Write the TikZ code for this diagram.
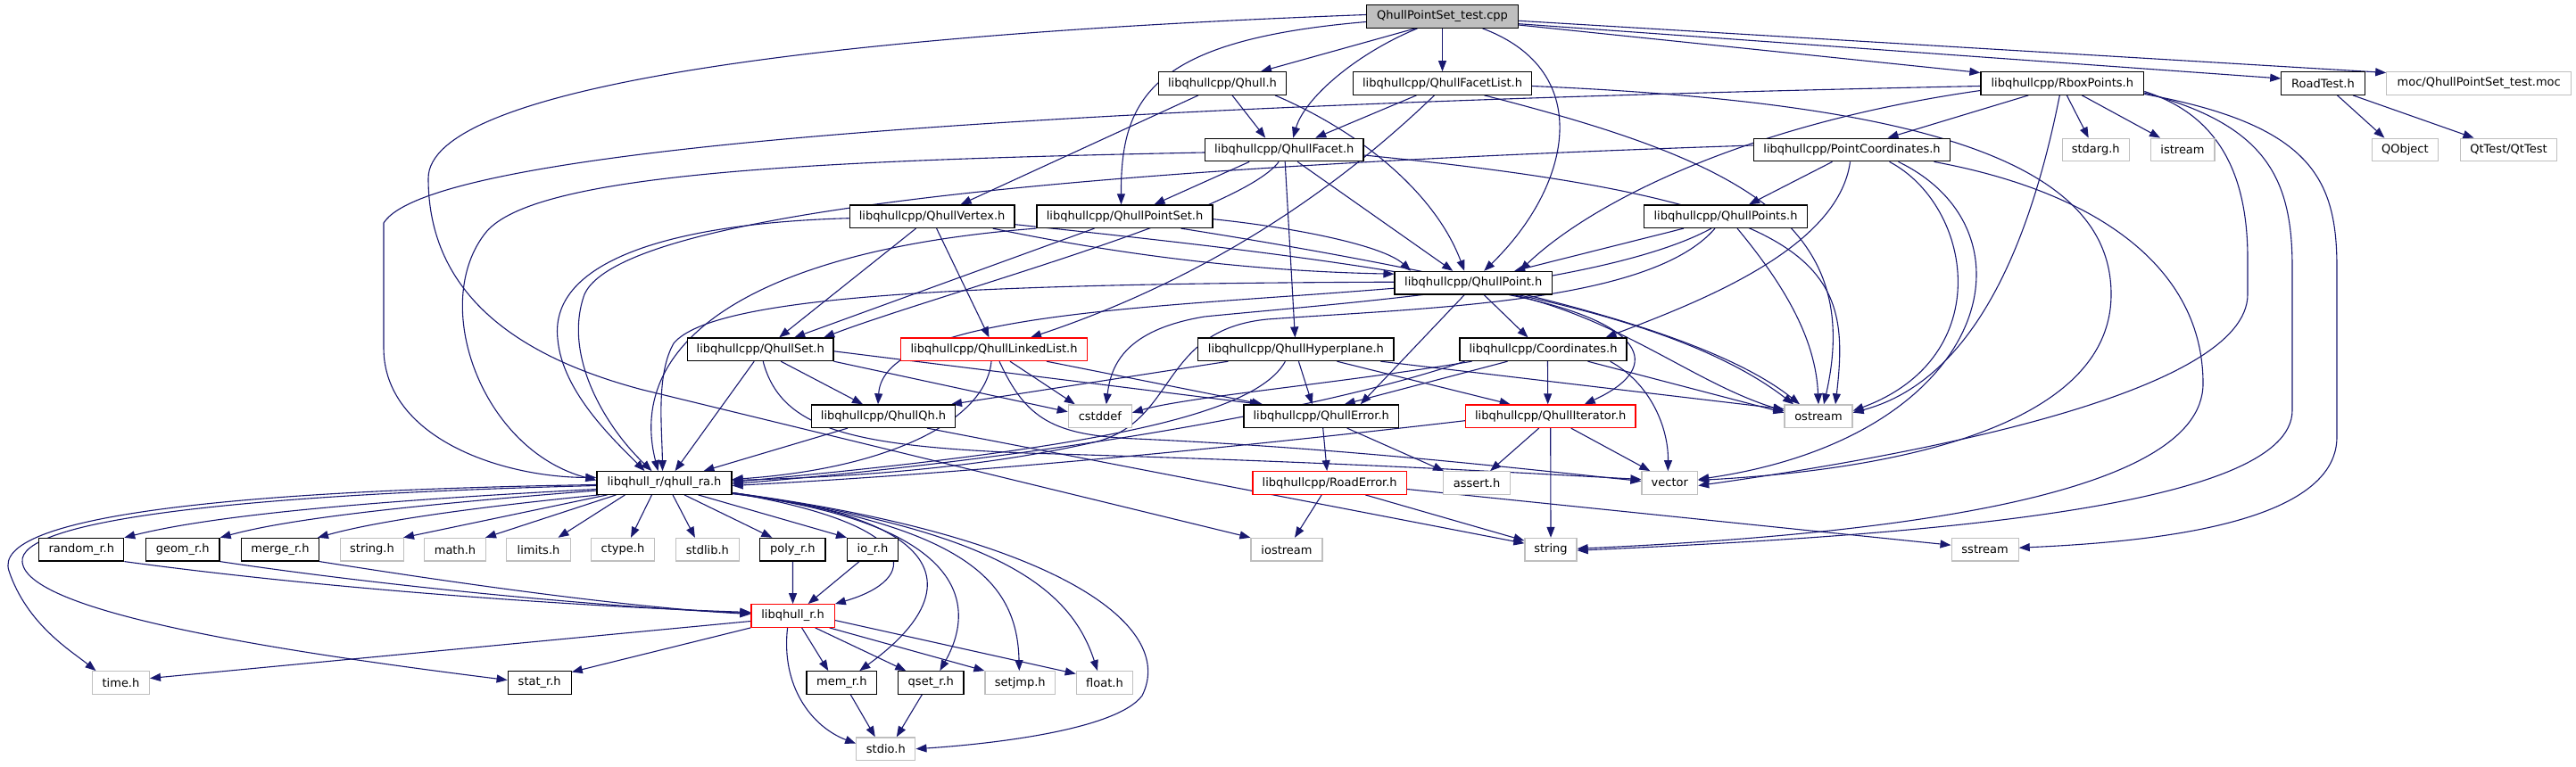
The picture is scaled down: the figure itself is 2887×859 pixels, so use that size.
\documentclass[tikz,border=0pt]{standalone}
\usepackage{fontspec}
\setmainfont{DejaVu Sans}
\usetikzlibrary{arrows.meta}
\definecolor{edgeblue}{HTML}{191970}
\definecolor{greyb}{HTML}{BFBFBF}
\pgfdeclarelayer{bg}
\pgfsetlayers{bg,main}
\tikzset{
  nd/.style={rectangle, draw=black, line width=1.2pt, fill=white, minimum height=25.6pt, inner sep=0pt, font=\fontsize{13}{15}\selectfont, text=black},
  ext/.style={nd, draw=greyb},
  trunc/.style={nd, draw=red},
  root/.style={nd, fill=greyb},
  e/.style={draw=edgeblue, line width=1.1pt, -{Triangle[length=12pt,width=9pt]}}
}
\begin{document}
\begin{tikzpicture}[x=1pt,y=-1pt]
\useasboundingbox (0,0) rectangle (2887,859);
% nodes
\node[root, minimum width=169.6pt] (T) at (1616.5,18.5) {QhullPointSet\_test.cpp};
\node[nd, minimum width=143pt] (Q) at (1370,93.5) {libqhullcpp/Qhull.h};
\node[nd, minimum width=200pt] (FL) at (1616.5,93.5) {libqhullcpp/QhullFacetList.h};
\node[nd, minimum width=182.7pt] (R) at (2311.3,93.5) {libqhullcpp/RboxPoints.h};
\node[nd, minimum width=93.4pt] (RT) at (2603.5,93.5) {RoadTest.h};
\node[ext, minimum width=206.8pt] (MOC) at (2778.2,93.5) {moc/QhullPointSet\_test.moc};
\node[nd, minimum width=177.6pt] (F) at (1439.2,168) {libqhullcpp/QhullFacet.h};
\node[nd, minimum width=220.4pt] (PC) at (2075.5,168) {libqhullcpp/PointCoordinates.h};
\node[ext, minimum width=74.8pt] (SA) at (2348.7,168) {stdarg.h};
\node[ext, minimum width=71.8pt] (IS) at (2446,168) {istream};
\node[ext, minimum width=74.3pt] (QO) at (2695.3,168) {QObject};
\node[ext, minimum width=107.9pt] (QT) at (2811.5,168) {QtTest/QtTest};
\node[nd, minimum width=184.8pt] (V) at (1044.6,242.7) {libqhullcpp/QhullVertex.h};
\node[nd, minimum width=196.9pt] (PS) at (1260.5,242.7) {libqhullcpp/QhullPointSet.h};
\node[nd, minimum width=182.6pt] (PTS) at (1934,242.7) {libqhullcpp/QhullPoints.h};
\node[nd, minimum width=176.3pt] (P) at (1651.2,317.2) {libqhullcpp/QhullPoint.h};
\node[nd, minimum width=163.5pt] (S) at (852.2,391.8) {libqhullcpp/QhullSet.h};
\node[trunc, minimum width=208.5pt] (LL) at (1114,391.8) {libqhullcpp/QhullLinkedList.h};
\node[nd, minimum width=219.2pt] (H) at (1452.4,391.8) {libqhullcpp/QhullHyperplane.h};
\node[nd, minimum width=187pt] (C) at (1729.5,391.8) {libqhullcpp/Coordinates.h};
\node[nd, minimum width=161.1pt] (QQ) at (990,466.7) {libqhullcpp/QhullQh.h};
\node[ext, minimum width=71pt] (CD) at (1232.8,466.7) {cstddef};
\node[nd, minimum width=173.4pt] (E) at (1480.7,466.7) {libqhullcpp/QhullError.h};
\node[trunc, minimum width=190.6pt] (I) at (1737.7,466.7) {libqhullcpp/QhullIterator.h};
\node[ext, minimum width=76pt] (OS) at (2038,466.7) {ostream};
\node[nd, minimum width=151pt] (RA) at (744.5,541.5) {libqhull\_r/qhull\_ra.h};
\node[trunc, minimum width=172.3pt] (RE) at (1490.2,541.5) {libqhullcpp/RoadError.h};
\node[ext, minimum width=74.6pt] (AS) at (1655.1,541.5) {assert.h};
\node[ext, minimum width=62.6pt] (VE) at (1871.3,541.5) {vector};
\node[nd, minimum width=95pt] (RND) at (91.3,616.2) {random\_r.h};
\node[nd, minimum width=82.6pt] (GEO) at (204.7,616.2) {geom\_r.h};
\node[nd, minimum width=87pt] (MRG) at (314,616.2) {merge\_r.h};
\node[ext, minimum width=70.5pt] (STR) at (417,616.2) {string.h};
\node[ext, minimum width=68.3pt] (MTH) at (510,616.2) {math.h};
\node[ext, minimum width=71.5pt] (LIM) at (603.5,616.2) {limits.h};
\node[ext, minimum width=71pt] (CTY) at (698,616.2) {ctype.h};
\node[ext, minimum width=70.5pt] (STL) at (792.9,616.2) {stdlib.h};
\node[nd, minimum width=73.2pt] (POL) at (888.4,616.2) {poly\_r.h};
\node[nd, minimum width=57.6pt] (IO) at (978,616.2) {io\_r.h};
\node[ext, minimum width=80pt] (IOS) at (1442,616.2) {iostream};
\node[ext, minimum width=58pt] (STG) at (1738,616.2) {string};
\node[ext, minimum width=75pt] (SS) at (2224.6,616.2) {sstream};
\node[trunc, minimum width=93.3pt] (LQ) at (888.6,690.5) {libqhull\_r.h};
\node[ext, minimum width=63.8pt] (TM) at (135.5,765.5) {time.h};
\node[nd, minimum width=71pt] (ST) at (604.7,765.5) {stat\_r.h};
\node[nd, minimum width=78.6pt] (MEM) at (943.3,765.5) {mem\_r.h};
\node[nd, minimum width=73.2pt] (QS) at (1043.3,765.5) {qset\_r.h};
\node[ext, minimum width=78.6pt] (SJ) at (1143.3,765.5) {setjmp.h};
\node[ext, minimum width=63.4pt] (FLT) at (1238,765.5) {float.h};
\node[ext, minimum width=66.1pt] (SIO) at (992.8,839.7) {stdio.h};
\begin{pgfonlayer}{bg}
% root
\draw[e] ([xshift=-30.5]T.south) -- ([xshift=43]Q.north);
\draw[e] ([xshift=-28]T.south) .. controls (1520,60) and (1462,110) .. ([xshift=10]F.north);
\draw[e] (T) -- (FL);
\draw[e] ([xshift=45]T.south) .. controls (1790,80) and (1760,210) .. ([xshift=12]P.north);
\draw[e] ([yshift=-6]T.west) .. controls (1290,45) and (1256,110) .. ([xshift=-4]PS.north);
\draw[e] ([yshift=2]T.west) .. controls (900,40) and (480,100) .. (480,200) .. controls (480,330) and (580,400) .. (720,437) -- (IOS.north west);
\draw[e] ([yshift=-9.5]T.east) -- ([yshift=12]R.west);
\draw[e] ([yshift=-8.2]T.east) -- ([yshift=5.5]RT.west);
\draw[e] ([yshift=-4.8]T.east) -- ([yshift=12]MOC.west);
% Qhull.h
\draw[e] ([xshift=-27]Q.south) -- ([xshift=32]V.north);
\draw[e] ([xshift=11]Q.south) -- ([xshift=-21]F.north);
\draw[e] ([xshift=59]Q.south) .. controls (1530,150) and (1610,220) .. ([xshift=-10]P.north);
% QhullFacetList.h
\draw[e] ([xshift=-29]FL.south) -- ([xshift=35]F.north);
\draw[e] ([xshift=-9]FL.south) .. controls (1480,230) and (1330,320) .. ([xshift=41]LL.north);
\draw[e] ([xshift=47]FL.south) .. controls (1950,180) and (2090,250) .. ([xshift=6]OS.north);
\draw[e] ([yshift=-3]FL.east) .. controls (2150,115) and (2366,180) .. (2366,330) .. controls (2366,470) and (2150,525) .. ([yshift=3]VE.east);
% RboxPoints.h
\draw[e] ([yshift=-3]R.west) .. controls (1100,120) and (480,170) .. (430,250) -- (430,390) .. controls (430,490) and (560,535) .. ([yshift=6]RA.west);
\draw[e] ([yshift=-8]R.west) .. controls (1950,140) and (1780,230) .. ([xshift=52]P.north);
\draw[e] ([xshift=-38]R.south) -- ([xshift=40]PC.north);
\draw[e] ([xshift=-3]R.south) .. controls (2270,300) and (2200,430) .. ([yshift=4]OS.east);
\draw[e] ([xshift=5]R.south) -- ([xshift=-8]SA.north);
\draw[e] ([xshift=22]R.south) -- ([xshift=-25]IS.north);
\draw[e] ([yshift=-9]R.east) .. controls (2490,130) and (2519,200) .. (2519,290) -- (2519,330) .. controls (2519,440) and (2150,510) .. ([yshift=-3]VE.east);
\draw[e] ([yshift=-10.5]R.east) .. controls (2540,140) and (2569,200) .. (2569,300) -- (2569,460) .. controls (2569,570) and (2150,600) .. ([yshift=-1]STG.east);
\draw[e] ([yshift=-12]R.east) .. controls (2590,140) and (2619,200) .. (2619,300) -- (2619,490) .. controls (2619,590) and (2400,608) .. ([yshift=2]SS.east);
% RoadTest.h
\draw[e] ([xshift=16]RT.south) -- ([xshift=-23]QO.north);
\draw[e] ([xshift=33.5]RT.south) -- ([xshift=-39]QT.north);
% QhullFacet.h
\draw[e] ([yshift=-3]F.west) .. controls (900,180) and (600,195) .. (545,260) .. controls (480,340) and (540,505) .. ([yshift=3]RA.west);
\draw[e] ([xshift=1]F.south) -- ([xshift=-1]H.north);
\draw[e] ([xshift=15]F.south) -- ([xshift=-23]P.north);
\draw[e] ([xshift=-6]F.south) .. controls (1390,240) and (1050,330) .. ([xshift=71]S.north);
\draw[e] ([xshift=-39]F.south) -- ([xshift=33]PS.north);
\draw[e] ([yshift=-6]F.east) .. controls (2050,225) and (2075,300) .. ([xshift=19]OS.north);
% QhullVertex.h
\draw[e] ([yshift=-2]V.west) .. controls (760,250) and (615,290) .. (625,380) .. controls (630,440) and (690,495) .. ([xshift=-22]RA.north);
\draw[e] ([xshift=68]V.south) .. controls (1300,295) and (1450,305) .. ([yshift=10]P.west);
\draw[e] ([xshift=5]V.south) -- ([xshift=-5.5]LL.north);
\draw[e] ([xshift=-18]V.south) -- ([xshift=21]S.north);
\draw[e] ([yshift=-9]V.east) .. controls (1500,290) and (1850,330) .. ([xshift=-28]OS.north);
% QhullPointSet.h
\draw[e] (PS.south west) .. controls (850,280) and (700,380) .. ([xshift=-7]RA.north);
\draw[e] ([xshift=-34]PS.south) -- ([xshift=38]S.north);
\draw[e] ([yshift=-3]PS.east) .. controls (1450,255) and (1550,275) .. ([xshift=-70]P.north);
\draw[e] ([xshift=63]PS.south) .. controls (1600,300) and (1900,360) .. ([xshift=-21]OS.north);
% QhullPoints.h
\draw[e] ([xshift=-47]PTS.south) -- ([xshift=46]P.north);
\draw[e] ([xshift=-16]PTS.south) .. controls (1800,320) and (1500,340) .. (1350,355) .. controls (1260,370) and (1245,410) .. ([xshift=7]CD.north);
\draw[e] ([xshift=-12]PTS.south) .. controls (1850,340) and (1600,345) .. (1420,358) .. controls (1300,370) and (1320,470) .. (1230,495) .. controls (1100,525) and (950,535) .. ([yshift=3]RA.east);
\draw[e] ([xshift=13]PTS.south) .. controls (2000,320) and (2035,380) .. (OS.north);
% QhullPoint.h
\draw[e] ([yshift=1]P.west) .. controls (1100,318) and (800,330) .. (755,385) .. controls (735,420) and (742,480) .. ([xshift=-2]RA.north);
\draw[e] ([yshift=-6]P.west) .. controls (1300,345) and (990,350) .. ([xshift=-6]QQ.north);
\draw[e] ([xshift=-10]P.south) -- ([xshift=44]E.north);
\draw[e] ([xshift=12]P.south) -- ([xshift=-17]C.north);
\draw[e] ([xshift=40]P.south) .. controls (1840,360) and (1870,410) .. ([xshift=38]I.north);
\draw[e] ([xshift=45]P.south) .. controls (1820,360) and (1900,430) .. ([yshift=6]OS.west);
% QhullHyperplane.h
\draw[e] ([xshift=-76]H.south) -- ([xshift=76]QQ.north);
\draw[e] ([xshift=3]H.south) -- ([xshift=-10]E.north);
\draw[e] ([xshift=46]H.south) -- ([xshift=-45]I.north);
\draw[e] ([xshift=95]H.south) -- ([yshift=8]OS.west);
\draw[e] ([xshift=-12]H.south) .. controls (1405,470) and (1200,505) .. ([yshift=1]RA.east);
% Coordinates.h
\draw[e] ([xshift=5]C.south) -- ([xshift=-3]I.north);
\draw[e] ([xshift=-40]C.south) -- ([xshift=26]E.north);
\draw[e] ([xshift=-80]C.south) .. controls (1500,430) and (1330,445) .. ([yshift=4]CD.east);
\draw[e] ([xshift=-88]C.south) .. controls (1450,470) and (1100,520) .. ([yshift=-1]RA.east);
\draw[e] ([xshift=50]C.south) -- ([yshift=4]OS.west);
\draw[e] ([xshift=75]C.south) .. controls (1850,430) and (1870,480) .. ([xshift=-2]VE.north);
% QhullIterator.h
\draw[e] ([yshift=-5]I.west) .. controls (1400,500) and (1100,530) .. ([yshift=-3]RA.east);
\draw[e] ([xshift=-13]I.south) -- ([xshift=15]AS.north);
\draw[e] (I.south) -- (STG.north);
\draw[e] ([xshift=23]I.south) -- ([xshift=-22]VE.north);
% QhullError.h
\draw[e] ([xshift=2]E.south) -- ([xshift=-3]RE.north);
\draw[e] ([xshift=29]E.south) -- ([xshift=-37]AS.north);
% RoadError.h
\draw[e] ([xshift=-9]RE.south) -- ([xshift=9]IOS.north);
\draw[e] ([xshift=40]RE.south) -- ([yshift=10]STG.west);
\draw[e] ([yshift=-7]RE.east) -- ([yshift=5]SS.west);
% QhullQh.h
\draw[e] ([xshift=-40]QQ.south) -- ([xshift=44]RA.north);
\draw[e] ([xshift=49]QQ.south) -- ([yshift=7]STG.west);
% QhullSet.h
\draw[e] ([xshift=-7]S.south) -- ([xshift=12]RA.north);
\draw[e] ([xshift=23]S.south) -- ([xshift=-23]QQ.north);
\draw[e] (S.south east) -- ([yshift=5]CD.west);
\draw[e] ([yshift=-2]S.east) -- ([xshift=-68]E.north);
\draw[e] ([xshift=3]S.south) .. controls (875,480) and (950,500) .. (1150,508) .. controls (1500,518) and (1700,530) .. ([yshift=4]VE.west);
% QhullLinkedList.h
\draw[e] ([xshift=-3]LL.south) .. controls (1105,470) and (1000,525) .. ([yshift=4]RA.east);
\draw[e] ([xshift=18]LL.south) -- ([xshift=-28]CD.north);
\draw[e] ([xshift=59]LL.south) -- ([xshift=-65.7]E.north);
\draw[e] ([xshift=6]LL.south) .. controls (1150,470) and (1180,488) .. (1273,492) .. controls (1500,502) and (1700,525) .. ([yshift=2]VE.west);
% PointCoordinates.h
\draw[e] ([yshift=5]PC.west) .. controls (1300,185) and (700,230) .. (655,330) .. controls (630,400) and (680,480) .. ([xshift=-14]RA.north);
\draw[e] ([xshift=-22]PC.south) -- ([xshift=26]PTS.north);
\draw[e] ([xshift=-2]PC.south) .. controls (2060,280) and (1900,340) .. ([xshift=70]C.north);
\draw[e] ([xshift=42]PC.south) .. controls (2210,230) and (2240,400) .. ([yshift=6]OS.east);
\draw[e] ([xshift=52]PC.south) .. controls (2290,260) and (2230,490) .. ([yshift=4]VE.east);
\draw[e] ([xshift=92]PC.south) .. controls (2350,215) and (2469,300) .. (2469,430) .. controls (2469,560) and (2100,600) .. ([yshift=1]STG.east);
% qhull_ra.h
\draw[e] ([yshift=-7]RA.west) .. controls (450,560) and (250,575) .. ([xshift=48]RND.north);
\draw[e] ([yshift=-8.5]RA.west) .. controls (480,565) and (330,580) .. ([xshift=42]GEO.north);
\draw[e] ([xshift=-73]RA.south) .. controls (520,570) and (420,585) .. ([xshift=42]MRG.north);
\draw[e] ([xshift=-64]RA.south) -- ([xshift=35]STR.north);
\draw[e] ([xshift=-54]RA.south) -- ([xshift=34]MTH.north);
\draw[e] ([xshift=-44]RA.south) -- ([xshift=22]LIM.north);
\draw[e] ([xshift=-14]RA.south) -- ([xshift=9]CTY.north);
\draw[e] ([xshift=9.5]RA.south) -- ([xshift=-14]STL.north);
\draw[e] ([xshift=22.5]RA.south) -- ([xshift=-23]POL.north);
\draw[e] ([xshift=38]RA.south) -- ([xshift=-29]IO.north);
\draw[e] ([yshift=-11]RA.east) .. controls (1040,590) and (1030,650) .. (LQ.north east);
\draw[e] ([yshift=-12]RA.east) .. controls (1060,580) and (1090,660) .. ([xshift=20]MEM.north);
\draw[e] ([yshift=-12]RA.east) .. controls (1070,585) and (1100,670) .. ([xshift=10]QS.north);
\draw[e] ([yshift=-11]RA.east) .. controls (1080,590) and (1140,650) .. ([xshift=-1]SJ.north);
\draw[e] ([yshift=-11]RA.east) .. controls (1120,595) and (1200,660) .. ([xshift=-8]FLT.north);
\draw[e] ([yshift=-11]RA.east) .. controls (1180,600) and (1320,700) .. (1280,780) .. controls (1250,820) and (1100,835) .. (SIO.east);
\draw[e] ([yshift=-2]RA.west) .. controls (250,550) and (-10,580) .. (10,640) .. controls (30,700) and (80,730) .. ([xshift=-28]TM.north);
\draw[e] ([yshift=-3]RA.west) .. controls (250,555) and (20,585) .. (25,630) .. controls (30,690) and (350,735) .. ([yshift=3]ST.west);
% libqhull_r.h
\draw[e] ([yshift=-6]LQ.west) -- ([yshift=5]TM.east);
\draw[e] (LQ.south west) -- ([yshift=12]ST.east);
\draw[e] ([xshift=10]LQ.south) -- ([xshift=-15]MEM.north);
\draw[e] ([xshift=25]LQ.south) -- ([xshift=-28]QS.north);
\draw[e] ([xshift=41]LQ.south) -- (SJ.north west);
\draw[e] ([yshift=-5]LQ.east) -- ([yshift=10]FLT.west);
\draw[e] ([xshift=-6]LQ.south) .. controls (875,770) and (910,815) .. ([yshift=6]SIO.west);
\draw[e] (POL) -- (LQ);
\draw[e] ([xshift=-15]IO.south) -- ([xshift=17]LQ.north);
\draw[e] (RND.south east) .. controls (400,665) and (700,682) .. ([yshift=4]LQ.west);
\draw[e] (GEO.south east) .. controls (450,660) and (700,682) .. ([yshift=3]LQ.west);
\draw[e] (MRG.south east) .. controls (550,660) and (720,682) .. ([yshift=2]LQ.west);
\draw[e] ([xshift=10]MEM.south) -- ([xshift=-12]SIO.north);
\draw[e] ([xshift=-10]QS.south) -- ([xshift=12]SIO.north);
\end{pgfonlayer}
\end{tikzpicture}
\end{document}
